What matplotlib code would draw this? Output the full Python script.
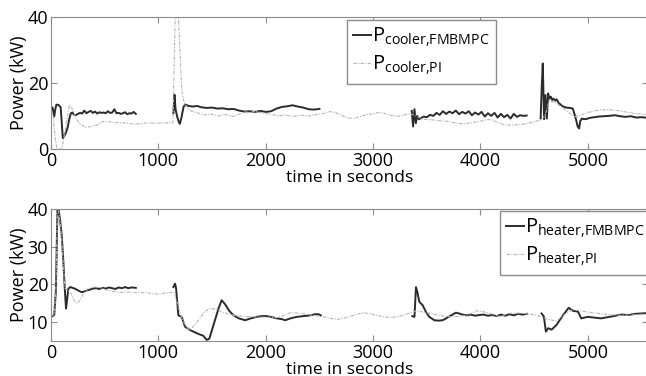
import matplotlib
matplotlib.use("Agg")
import matplotlib.pyplot as plt

# ---- data (time in s, power in kW) ----
# cooler, FMBMPC (four separate runs, gaps in between)
cool_mpc_t = [
    [0, 15, 30, 40, 50, 70, 90, 100, 110, 125, 140, 155, 170, 185, 200, 215, 230, 250, 270, 290,
     310, 330, 350, 370, 390, 410, 430, 450, 470, 490, 510, 530, 550, 570, 590, 610, 630, 650,
     670, 690, 710, 730, 750, 770, 790],
    [1140, 1150, 1160, 1175, 1190, 1200, 1215, 1235, 1255, 1280, 1320, 1360, 1400, 1450, 1500,
     1550, 1600, 1650, 1700, 1750, 1800, 1850, 1900, 1950, 2000, 2050, 2100, 2150, 2200, 2250,
     2300, 2350, 2400, 2450, 2500],
    [3360, 3372, 3385, 3398, 3410, 3425, 3445, 3470, 3500, 3530, 3560, 3590, 3620, 3650, 3680,
     3710, 3740, 3770, 3800, 3830, 3860, 3890, 3920, 3950, 3980, 4010, 4040, 4070, 4100, 4130,
     4160, 4190, 4220, 4250, 4280, 4310, 4340, 4370, 4400, 4430],
    [4560, 4572, 4580, 4592, 4605, 4618, 4630, 4642, 4655, 4668, 4680, 4695, 4710, 4725, 4740,
     4760, 4780, 4800, 4830, 4860, 4885, 4905, 4918, 4930, 4945, 4965, 4990, 5020, 5060, 5100,
     5150, 5200, 5250, 5300, 5350, 5400, 5450, 5500, 5560],
]
cool_mpc_p = [
    [12.7, 12.5, 9.8, 12.0, 13.4, 13.3, 12.6, 8.0, 3.3, 4.0, 5.0, 6.5, 9.0, 10.8, 11.0, 10.3,
     10.2, 10.6, 10.9, 10.7, 11.6, 10.8, 11.2, 11.5, 10.9, 11.3, 10.7, 11.1, 10.9, 11.0, 10.8,
     11.4, 10.9, 11.0, 12.0, 10.8, 10.9, 10.6, 10.8, 11.1, 10.5, 10.8, 10.7, 11.2, 10.6],
    [10.8, 16.4, 12.0, 9.8, 8.2, 7.6, 9.5, 12.8, 13.4, 13.0, 12.8, 13.0, 12.6, 12.4, 12.5, 12.2,
     12.3, 12.0, 12.1, 11.6, 11.3, 11.4, 11.2, 11.5, 11.2, 11.4, 12.2, 12.7, 12.9, 13.2, 12.8,
     12.5, 12.0, 11.9, 12.1],
    [11.5, 6.8, 12.0, 7.8, 10.0, 9.0, 9.3, 9.8, 9.6, 10.3, 10.0, 10.9, 10.3, 11.4, 10.6, 11.3,
     10.8, 11.6, 10.5, 11.2, 10.7, 11.4, 10.2, 11.0, 10.4, 11.2, 9.8, 10.8, 10.0, 10.9, 9.5,
     10.6, 9.6, 10.3, 9.2, 10.6, 9.7, 10.2, 10.0, 10.1],
    [9.2, 20.0, 25.8, 9.0, 16.3, 9.2, 16.8, 15.2, 15.8, 14.8, 15.2, 14.6, 15.0, 14.0, 13.6,
     13.0, 12.7, 12.5, 12.4, 12.2, 9.5, 6.8, 6.2, 8.5, 9.2, 9.0, 9.1, 9.4, 9.6, 9.8, 9.9, 10.0,
     10.2, 9.9, 9.7, 9.9, 9.5, 9.6, 9.4],
]

# cooler, PI
cool_pi_t = [0, 20, 40, 55, 100, 140, 170, 200, 230, 265, 325, 420, 480, 545, 600, 670, 790, 900,
             1000, 1100, 1135, 1165, 1180, 1200, 1217, 1240, 1265, 1300, 1360, 1420, 1500, 1560,
             1620, 1700, 1760, 1800, 1850, 1900, 1950, 2000, 2060, 2120, 2180, 2250, 2320, 2400,
             2480, 2550, 2600, 2650, 2700, 2760, 2820, 2880, 2940, 3000, 3050, 3100, 3160, 3220,
             3280, 3340, 3400, 3460, 3520, 3600, 3680, 3760, 3840, 3900, 3970, 4050, 4100, 4160,
             4220, 4280, 4350, 4420, 4500, 4560, 4600, 4640, 4700, 4760, 4820, 4880, 4950, 5000,
             5060, 5120, 5200, 5280, 5350, 5420, 5500, 5560]
cool_pi_p = [12.0, 10.0, 3.0, 0.0, 0.0, 7.0, 13.3, 12.0, 9.5, 7.7, 6.5, 7.1, 8.3, 8.2, 8.0, 7.9,
             7.5, 7.9, 7.8, 7.9, 7.9, 52.0, 45.0, 30.0, 17.8, 14.0, 12.7, 11.5, 11.0, 10.3, 10.5,
             10.0, 10.4, 9.8, 10.6, 11.2, 11.0, 11.4, 11.0, 10.7, 10.4, 10.0, 10.3, 9.8, 10.2,
             10.0, 10.4, 10.8, 11.3, 11.0, 10.2, 9.4, 9.2, 9.8, 10.4, 10.6, 11.0, 10.8, 10.2, 9.8,
             10.2, 10.7, 10.0, 9.0, 8.9, 8.6, 8.4, 7.9, 7.6, 7.9, 8.2, 8.8, 8.9, 8.0, 7.3, 7.2,
             7.3, 7.6, 8.2, 8.8, 10.0, 14.5, 14.0, 12.5, 11.0, 9.8, 10.4, 11.0, 11.5, 11.8, 11.9,
             11.6, 11.2, 10.8, 10.5, 10.3]

# heater, FMBMPC
heat_mpc_t = [
    [0, 15, 30, 45, 60, 70, 85, 100, 115, 130, 140, 150, 162, 180, 200, 220, 240, 260, 280, 300,
     330, 360, 390, 420, 450, 480, 510, 540, 570, 600, 630, 660, 690, 720, 750, 790],
    [1140, 1155, 1165, 1186, 1217, 1248, 1290, 1325, 1370, 1418, 1449, 1474, 1500, 1530, 1560,
     1589, 1620, 1660, 1700, 1750, 1808, 1860, 1917, 1960, 2010, 2060, 2104, 2150, 2181, 2230,
     2290, 2350, 2414, 2460, 2492, 2513],
    [3365, 3385, 3399, 3412, 3430, 3461, 3490, 3523, 3570, 3610, 3647, 3680, 3715, 3770, 3800,
     3832, 3870, 3910, 3950, 3990, 4030, 4070, 4110, 4150, 4190, 4230, 4270, 4310, 4350, 4390,
     4430],
    [4569, 4590, 4609, 4631, 4662, 4706, 4768, 4821, 4861, 4908, 4938, 5000, 5060, 5124, 5180,
     5240, 5310, 5380, 5440, 5496, 5560],
]
heat_mpc_p = [
    [11.8, 11.6, 11.9, 18.0, 39.6, 40.0, 37.0, 33.0, 26.0, 18.0, 13.6, 16.0, 18.9, 19.3, 19.1,
     18.9, 18.6, 18.3, 18.0, 18.0, 18.4, 18.6, 18.9, 19.0, 18.8, 19.1, 18.9, 19.2, 19.0, 18.8,
     19.2, 19.0, 19.3, 19.0, 19.2, 19.1],
    [19.3, 20.2, 19.0, 11.8, 11.4, 8.8, 8.0, 7.5, 6.9, 6.4, 5.3, 5.6, 8.0, 10.8, 13.6, 15.8,
     14.8, 13.0, 11.8, 11.0, 10.5, 11.0, 11.4, 11.6, 11.6, 11.3, 11.0, 10.8, 10.5, 11.0, 11.4,
     11.6, 11.8, 12.1, 12.1, 11.8],
    [11.6, 11.4, 19.3, 18.0, 15.4, 14.5, 12.8, 11.4, 10.5, 10.4, 10.5, 11.0, 11.6, 12.5, 12.3,
     12.0, 11.8, 12.0, 11.7, 11.9, 12.0, 11.7, 11.9, 11.6, 12.0, 11.7, 12.1, 11.8, 12.2, 12.0,
     12.2],
    [12.3, 11.5, 7.5, 8.4, 8.0, 9.2, 11.8, 13.8, 13.0, 12.8, 11.0, 11.4, 11.2, 11.0, 11.3, 11.6,
     12.0, 11.9, 12.2, 12.3, 12.4],
]

# heater, PI
heat_pi_t = [0, 30, 45, 60, 70, 85, 100, 115, 130, 150, 175, 200, 220, 240, 270, 300, 340, 400,
             460, 520, 580, 650, 720, 800, 880, 950, 1000, 1060, 1120, 1150, 1180, 1220, 1260,
             1294, 1340, 1387, 1430, 1480, 1543, 1600, 1650, 1700, 1800, 1900, 2000, 2104, 2160,
             2228, 2300, 2352, 2440, 2538, 2600, 2662, 2720, 2786, 2850, 2908, 2970, 3032, 3100,
             3157, 3220, 3281, 3340, 3405, 3480, 3560, 3640, 3715, 3790, 3870, 3920, 3964, 4020,
             4088, 4140, 4181, 4254, 4330, 4410, 4490, 4560, 4620, 4708, 4760, 4820, 4863, 4930,
             5018, 5100, 5200, 5300, 5400, 5500, 5560]
heat_pi_p = [11.8, 11.9, 18.0, 39.0, 39.5, 36.5, 32.0, 25.0, 19.0, 18.5, 18.0, 17.0, 15.5, 15.0,
             15.8, 17.5, 18.8, 19.3, 19.2, 18.5, 18.2, 17.9, 18.0, 17.8, 17.8, 17.6, 17.4, 17.7,
             17.9, 17.8, 14.5, 11.0, 8.7, 7.9, 9.3, 11.0, 12.8, 13.6, 13.4, 12.6, 12.2, 11.8, 11.5,
             11.4, 11.3, 11.2, 11.6, 12.5, 12.4, 12.2, 11.8, 11.4, 11.0, 10.7, 11.0, 11.5, 12.1,
             12.5, 12.2, 11.8, 11.4, 11.2, 11.4, 11.8, 12.4, 13.0, 12.6, 12.1, 11.7, 11.4, 11.5,
             11.8, 12.4, 13.0, 12.8, 12.3, 11.8, 11.4, 12.3, 12.4, 12.3, 12.0, 11.5, 10.8, 10.3,
             11.5, 12.8, 13.3, 13.0, 12.6, 12.3, 12.0, 11.8, 11.9, 12.1, 12.2]

x_ticks = [0, 1000, 2000, 3000, 4000, 5000]
top_yticks = [0, 20, 40]
bot_yticks = [10, 20, 30, 40]

# ---- style ----
plt.rcParams["font.family"] = ["Open Sans", "DejaVu Sans"]
plt.rcParams["mathtext.fontset"] = "custom"
plt.rcParams["mathtext.rm"] = "Open Sans"
plt.rcParams["mathtext.it"] = "Open Sans"

MPC_STYLE = dict(color="#2b2b2b", lw=1.4, solid_joinstyle="round")
PI_STYLE = dict(color="#b4b4b4", lw=0.8, linestyle=(0, (3, 1.2, 1, 1.2)))
SPINE_COLOR = "#8c8c8c"
TICK_FS = 13
LEGEND_KW = dict(fontsize=14.5, handlelength=0.9, handletextpad=0.05, borderpad=0.3,
                 labelspacing=0.25, fancybox=False, framealpha=1, edgecolor=SPINE_COLOR,
                 borderaxespad=0)


def style_axes(ax, yticks, ylim):
    ax.set_xlim(0, 5560)
    ax.set_ylim(*ylim)
    ax.set_xticks(x_ticks)
    ax.set_yticks(yticks)
    ax.tick_params(direction="in", length=4, width=0.8, color=SPINE_COLOR,
                   top=True, right=True, labelsize=TICK_FS, pad=2)
    for sp in ax.spines.values():
        sp.set_color(SPINE_COLOR)
        sp.set_linewidth(0.8)
    ax.set_xlabel("time in seconds", fontsize=12.5, labelpad=0.5)
    ax.set_ylabel("Power (kW)", fontsize=13, labelpad=0)


fig = plt.figure(figsize=(6.46, 3.76), dpi=100)
ax_top = fig.add_axes([51 / 646, 1 - 149 / 376, 597 / 646, 132.5 / 376])
ax_bot = fig.add_axes([51 / 646, 1 - 341 / 376, 597 / 646, 132 / 376])

# cooler panel
for i, (t, p) in enumerate(zip(cool_mpc_t, cool_mpc_p)):
    ax_top.plot(t, p, label=r"$\mathregular{P_{cooler{,}FMBMPC}}$" if i == 0 else None,
                **MPC_STYLE)
ax_top.plot(cool_pi_t, cool_pi_p, label=r"$\mathregular{P_{cooler{,}PI}}$", **PI_STYLE)
style_axes(ax_top, top_yticks, (0, 40))
ax_top.legend(loc="upper left", bbox_to_anchor=(296 / 597, 1 - 3.5 / 132.5), **LEGEND_KW)

# heater panel
for i, (t, p) in enumerate(zip(heat_mpc_t, heat_mpc_p)):
    ax_bot.plot(t, p, label=r"$\mathregular{P_{heater{,}FMBMPC}}$" if i == 0 else None,
                **MPC_STYLE)
ax_bot.plot(heat_pi_t, heat_pi_p, label=r"$\mathregular{P_{heater{,}PI}}$", **PI_STYLE)
style_axes(ax_bot, bot_yticks, (5, 40))
ax_bot.legend(loc="upper left", bbox_to_anchor=(449 / 597, 1 - 2 / 132), **LEGEND_KW)

fig.savefig("out.png", dpi=100)
